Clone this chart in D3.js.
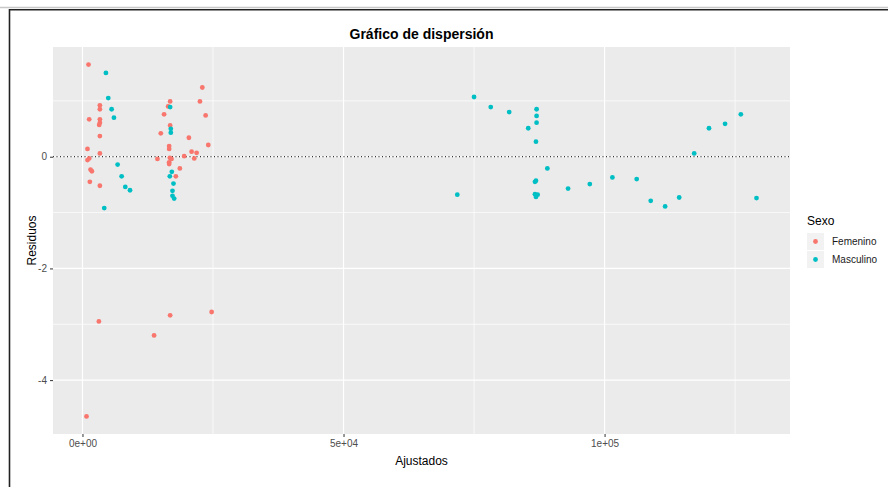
<!DOCTYPE html>
<html>
<head>
<meta charset="utf-8">
<script src="https://cdn.jsdelivr.net/npm/d3@7"></script>
<style>
  body { margin: 0; background: #fff; }
  svg text { font-family: "Liberation Sans", Arial, sans-serif; }
</style>
</head>
<body>
<div id="chart"></div>
<script>
// Femenino: fitted values and residuals
const femX = [1154, 3330, 3330, 1282, 3330, 3330, 3200, 3330, 960, 3330, 1280, 960, 1540, 1800, 1410, 3330,
  22950, 16790, 22500, 16410, 15630, 23590, 16790, 15000, 20380, 24100, 16600, 16600, 20900, 21860,
  19480, 14360, 16730, 17050, 21410, 16600, 16600, 18650, 17880,
  3140, 13710, 16790, 24740, 770];
const femY = [1.65, 0.92, 0.85, 0.67, 0.67, 0.61, 0.57, 0.37, 0.14, 0.06, -0.03, -0.06, -0.23, -0.26, -0.45, -0.52,
  1.24, 0.99, 0.99, 0.90, 0.76, 0.74, 0.56, 0.42, 0.34, 0.21, 0.19, 0.14, 0.09, 0.07,
  0.01, -0.04, -0.02, -0.04, -0.03, -0.10, -0.13, -0.21, -0.35,
  -2.95, -3.20, -2.84, -2.78, -4.65];

// Masculino
const mascX = [4490, 4940, 5580, 6030, 6730, 7500, 8200, 9100, 4170,
  16790, 16920, 16920, 17110, 16730, 17430, 17240, 17240, 17560,
  75000, 78200, 81730, 86980, 86980, 86980, 85380, 86860, 89040, 71790, 86860, 86670,
  93010, 97170, 101500, 86670, 87180, 86860,
  106150, 108840, 111600, 114290, 117170, 120000, 123080, 126100, 129100];
const mascY = [1.50, 1.05, 0.85, 0.70, -0.14, -0.35, -0.54, -0.60, -0.92,
  0.89, 0.50, 0.43, -0.27, -0.35, -0.48, -0.61, -0.70, -0.75,
  1.07, 0.89, 0.80, 0.85, 0.73, 0.61, 0.51, 0.27, -0.21, -0.68, -0.43, -0.45,
  -0.57, -0.49, -0.37, -0.67, -0.68, -0.72,
  -0.40, -0.79, -0.89, -0.73, 0.06, 0.51, 0.59, 0.76, -0.74];

const groups = ["Femenino", "Masculino"];
const colors = ["#F8766D", "#00BFC4"];
const xTicks = [0, 50000, 100000];
const xMinor = [25000, 75000, 125000];
const xTickLabels = ["0e+00", "5e+04", "1e+05"];
const yTicks = [0, -2, -4];
const yMinor = [1, -1, -3];
const yTickLabels = ["0", "-2", "-4"];

const width = 888, height = 487;
const panel = { left: 53, right: 790, top: 47, bottom: 434 };

const svg = d3.select("#chart").append("svg")
  .attr("width", width)
  .attr("height", height);

// window frame
svg.append("line").attr("x1", 0).attr("x2", width).attr("y1", 7.5).attr("y2", 7.5)
  .attr("stroke", "#c8c8c8").attr("stroke-width", 1.5);
svg.append("path").attr("d", `M9.5,${height} V9.8 H${width}`)
  .attr("fill", "none").attr("stroke", "#222").attr("stroke-width", 1.6);

const allX = femX.concat(mascX), allY = femY.concat(mascY);
function expand(ext) {
  const pad = (ext[1] - ext[0]) * 0.05;
  return [ext[0] - pad, ext[1] + pad];
}
const x = d3.scaleLinear().domain(expand(d3.extent(allX))).range([panel.left, panel.right]);
const y = d3.scaleLinear().domain(expand(d3.extent(allY))).range([panel.bottom, panel.top]);

// panel background
svg.append("rect")
  .attr("x", panel.left).attr("y", panel.top)
  .attr("width", panel.right - panel.left).attr("height", panel.bottom - panel.top)
  .attr("fill", "#EBEBEB");

// grid
const grid = svg.append("g").attr("stroke", "#fff");
grid.selectAll(".xminor").data(xMinor).enter().append("line")
  .attr("x1", d => x(d)).attr("x2", d => x(d)).attr("y1", panel.top).attr("y2", panel.bottom)
  .attr("stroke-width", 0.7);
grid.selectAll(".yminor").data(yMinor).enter().append("line")
  .attr("y1", d => y(d)).attr("y2", d => y(d)).attr("x1", panel.left).attr("x2", panel.right)
  .attr("stroke-width", 0.7);
grid.selectAll(".xmajor").data(xTicks).enter().append("line")
  .attr("x1", d => x(d)).attr("x2", d => x(d)).attr("y1", panel.top).attr("y2", panel.bottom)
  .attr("stroke-width", 1.2);
grid.selectAll(".ymajor").data(yTicks).enter().append("line")
  .attr("y1", d => y(d)).attr("y2", d => y(d)).attr("x1", panel.left).attr("x2", panel.right)
  .attr("stroke-width", 1.2);

// dotted zero line
svg.append("line")
  .attr("x1", panel.left).attr("x2", panel.right)
  .attr("y1", y(0)).attr("y2", y(0))
  .attr("stroke", "#000").attr("stroke-width", 1)
  .attr("stroke-dasharray", "1,2.5");

// axes
const xAxis = svg.append("g")
  .attr("transform", `translate(0,${panel.bottom})`)
  .call(d3.axisBottom(x).tickValues(xTicks).tickSize(3).tickPadding(3)
    .tickFormat((d, i) => xTickLabels[i]));
const yAxis = svg.append("g")
  .attr("transform", `translate(${panel.left},0)`)
  .call(d3.axisLeft(y).tickValues(yTicks).tickSize(3).tickPadding(3)
    .tickFormat((d, i) => yTickLabels[i]));
[xAxis, yAxis].forEach(a => {
  a.select(".domain").remove();
  a.selectAll(".tick line").attr("stroke", "#333");
  a.selectAll(".tick text").attr("fill", "#4D4D4D").style("font-size", "10px")
    .style("font-family", "'Liberation Sans', Arial, sans-serif");
});

// points
const pts = svg.append("g");
[[femX, femY], [mascX, mascY]].forEach(([xs, ys], g) => {
  pts.selectAll(".p" + g).data(xs.map((v, i) => [v, ys[i]])).enter().append("circle")
    .attr("cx", d => x(d[0])).attr("cy", d => y(d[1]))
    .attr("r", 2.4)
    .attr("fill", colors[g]);
});

// titles
svg.append("text")
  .attr("x", (panel.left + panel.right) / 2).attr("y", 39)
  .attr("text-anchor", "middle")
  .style("font-size", "14px").style("font-weight", "bold")
  .text("Gráfico de dispersión");
svg.append("text")
  .attr("x", (panel.left + panel.right) / 2).attr("y", 465)
  .attr("text-anchor", "middle")
  .style("font-size", "12px")
  .text("Ajustados");
svg.append("text")
  .attr("transform", `translate(36,${(panel.top + panel.bottom) / 2}) rotate(-90)`)
  .attr("text-anchor", "middle")
  .style("font-size", "12px")
  .text("Residuos");

// legend
const legend = svg.append("g").attr("transform", "translate(807,0)");
legend.append("text").attr("x", 0).attr("y", 225).style("font-size", "12px").text("Sexo");
groups.forEach((g, i) => {
  const top = 233 + i * 18;
  legend.append("rect").attr("x", 0).attr("y", top).attr("width", 17).attr("height", 17)
    .attr("fill", "#F2F2F2");
  legend.append("circle").attr("cx", 8.5).attr("cy", top + 8.5).attr("r", 2.4).attr("fill", colors[i]);
  legend.append("text").attr("x", 25).attr("y", top + 12)
    .style("font-size", "10px").attr("fill", "#1A1A1A").text(g);
});
</script>
</body>
</html>
